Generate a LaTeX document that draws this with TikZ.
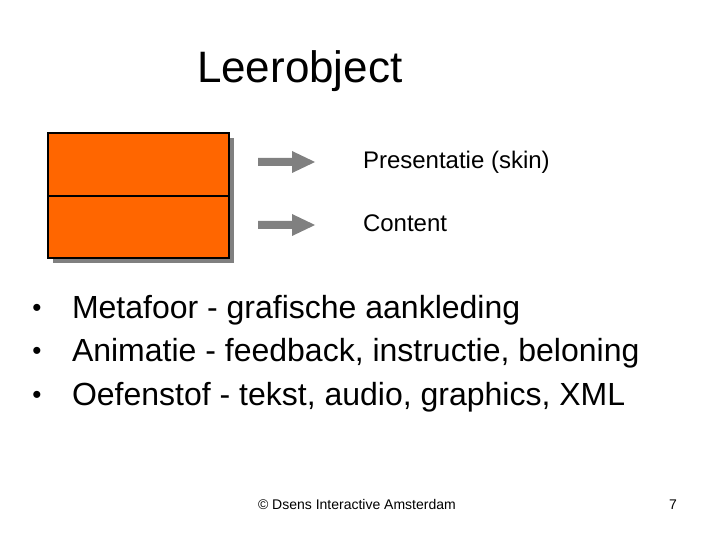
\documentclass[tikz,border=0pt]{standalone}
\usepackage{fontspec}
\setmainfont{Liberation Sans}
\begin{document}
\begin{tikzpicture}[x=1bp,y=-1bp,
  txt/.style={anchor=base west,inner sep=0pt,outer sep=0pt},
  title/.style={txt,font=\fontsize{44bp}{48bp}\selectfont},
  lbl/.style={txt,font=\fontsize{24bp}{28bp}\selectfont},
  bul/.style={txt,font=\fontsize{32bp}{36bp}\selectfont},
  bulmark/.style={inner sep=0pt,outer sep=0pt,anchor=base,font=\fontsize{26bp}{30bp}\selectfont},
  foot/.style={txt,font=\fontsize{14bp}{16bp}\selectfont},
  part/.style={draw=black,line width=1.2bp,fill=orangebox},
  blockarrow/.style={fill=arrowgray,draw=none}]
\definecolor{orangebox}{HTML}{FF6600}
\definecolor{arrowgray}{HTML}{808080}
\useasboundingbox (0,0) rectangle (720,540);
\fill[white] (0,0) rectangle (720,540);
% title
\node[title] (title) at (197,83) {Leerobject};
% box with shadow
\fill[arrowgray] (53,138) rectangle (234,263);
\draw[part] (48,133) rectangle (229,196);
\draw[part] (48,196) rectangle (229,258);
% block arrows
\foreach \yc in {162,225}{
  \fill[blockarrow] (258,\yc-4) -- (292,\yc-4) -- (292,\yc-11) -- (315,\yc) -- (292,\yc+11) -- (292,\yc+4) -- (258,\yc+4) -- cycle;
}
% labels
\node[lbl] (skin) at (363,169) {Presentatie (skin)};
\node[lbl] (content) at (363,232) {Content};
% bullets
\foreach \yb/\t [count=\i] in {318/{Metafoor - grafische aankleding},361/{Animatie - feedback, instructie, beloning},405/{Oefenstof - tekst, audio, graphics, XML}}{
  \node[bulmark] (b\i) at (37,\yb-2) {•};
  \node[bul] (t\i) at (72,\yb) {\t};
}
% footer
\node[foot] (copy) at (258,509) {© Dsens Interactive Amsterdam};
\node[foot] (page) at (669,509) {7};
\end{tikzpicture}
\end{document}
